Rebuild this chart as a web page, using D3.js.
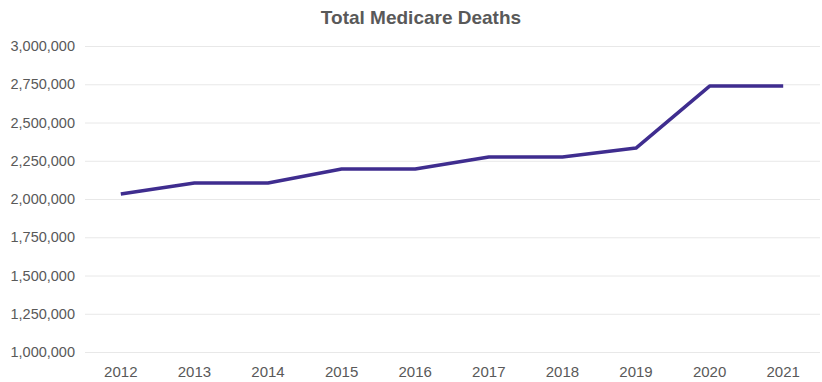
<!DOCTYPE html>
<html><head><meta charset="utf-8">
<script src="https://cdn.jsdelivr.net/npm/d3@7"></script>
<style>body{margin:0;background:#fff}svg{display:block}</style>
</head><body><svg id="c" width="822" height="382"></svg>
<script>
const years = ["2012","2013","2014","2015","2016","2017","2018","2019","2020","2021"];
const deaths = [2033000, 2105000, 2105000, 2196000, 2196000, 2275000, 2275000, 2333000, 2738000, 2738000];
const yTicks = [1000000,1250000,1500000,1750000,2000000,2250000,2500000,2750000,3000000];
const title = "Total Medicare Deaths";

const svg = d3.select("#c");
const W = 822, H = 382;
const m = {left: 85, right: 2, top: 46, bottom: 30};
const x = d3.scaleBand().domain(years).range([m.left - 1, W - m.right]);
const y = d3.scaleLinear().domain([1000000, 3000000]).range([352, 46]);

svg.append("text").attr("x", 421).attr("y", 24).attr("text-anchor", "middle")
  .attr("font-family", "Liberation Sans, Arial, sans-serif").attr("font-weight", "bold")
  .attr("font-size", 19).attr("fill", "#595959").text(title);

const ya = svg.append("g").attr("transform", `translate(${m.left},0)`)
  .call(d3.axisLeft(y).tickValues(yTicks).tickFormat(d3.format(",")).tickSize(-(W - m.left - m.right)).tickPadding(10));
ya.select(".domain").remove();
ya.selectAll(".tick line").attr("stroke", "#e8e8e8").attr("stroke-width", 1);
ya.selectAll(".tick text").attr("font-family", "Liberation Sans, Arial, sans-serif").attr("font-size", 14.5).attr("fill", "#595959");

const xa = svg.append("g").attr("transform", `translate(0,352)`)
  .call(d3.axisBottom(x).tickSize(0).tickPadding(14));
xa.select(".domain").remove();
xa.selectAll(".tick text").attr("font-family", "Liberation Sans Narrow, Arial Narrow, sans-serif").attr("font-size", 15).attr("fill", "#595959");

const line = d3.line().x((d, i) => x(years[i]) + x.bandwidth() / 2).y(d => y(d));
svg.append("path").datum(deaths).attr("d", line).attr("fill", "none")
  .attr("stroke", "#3f2d8f").attr("stroke-width", 3.5).attr("stroke-linejoin", "round");
</script></body></html>
